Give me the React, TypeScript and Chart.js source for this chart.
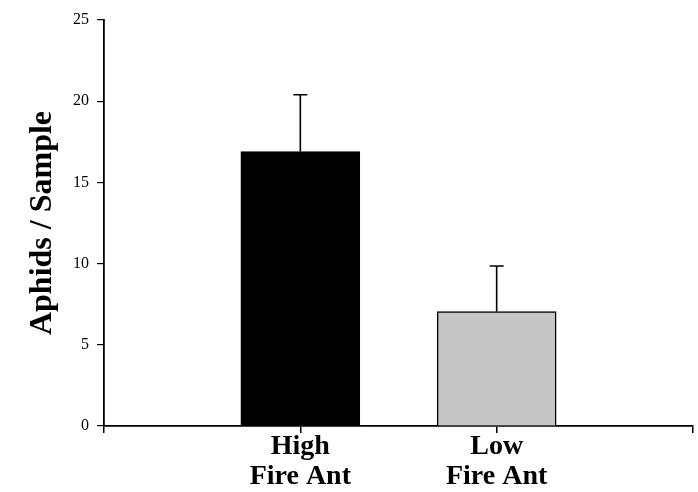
import React, { useEffect, useRef } from "react";
import { Chart, registerables } from "chart.js";

Chart.register(...registerables);

const categories: (string | string[])[] = ["", ["High", "Fire Ant"], ["Low", "Fire Ant"], ""];
const means: (number | null)[] = [null, 16.9, 7.05, null];
const errors: (number | null)[] = [null, 3.5, 2.8, null];
const barColors = ["#000000", "#000000", "#c6c6c6", "#000000"];
const yTicks = [0, 5, 10, 15, 20, 25];

const errorBarPlugin = {
  id: "errorBars",
  afterDatasetsDraw(chart: any) {
    const { ctx, scales } = chart;
    const x = scales.x;
    const y = scales.y;
    ctx.save();
    ctx.strokeStyle = "#000";
    ctx.lineWidth = 1.6;
    means.forEach((m, i) => {
      const e = errors[i];
      if (m == null || e == null) return;
      const px = x.getPixelForValue(i);
      const y0 = y.getPixelForValue(m);
      const y1 = y.getPixelForValue(m + e);
      ctx.beginPath();
      ctx.moveTo(px, y0);
      ctx.lineTo(px, y1);
      ctx.moveTo(px - 7, y1);
      ctx.lineTo(px + 7, y1);
      ctx.stroke();
    });
    ctx.restore();
  },
};

export default function App() {
  const ref = useRef<HTMLCanvasElement | null>(null);
  useEffect(() => {
    document.body.style.margin = "0";
    const chart = new Chart(ref.current as HTMLCanvasElement, {
      type: "bar",
      data: {
        labels: categories as any,
        datasets: [
          {
            data: means as any,
            backgroundColor: barColors,
            borderColor: "#000",
            borderWidth: 1.5,
            borderSkipped: "bottom",
            barThickness: 119,
          },
        ],
      },
      options: {
        animation: false,
        responsive: false,
        maintainAspectRatio: false,
        layout: { padding: { top: 20, right: 5, left: 0, bottom: 0 } },
        plugins: {
          legend: { display: false },
          tooltip: { enabled: false },
        },
        scales: {
          x: {
            type: "category",
            offset: false,
            afterFit: (s: any) => {
              s.height = 66;
            },
            grid: {
              display: true,
              offset: false,
              drawOnChartArea: false,
              drawTicks: true,
              tickLength: 7,
              color: "#000",
              lineWidth: 1.5,
            },
            border: { display: true, color: "#000", width: 1.8 },
            ticks: {
              color: "#000",
              padding: -2,
              autoSkip: false,
              maxRotation: 0,
              font: { family: "'Liberation Serif', 'Times New Roman', serif", size: 28, weight: "bold", lineHeight: 1.1 },
            },
          },
          y: {
            min: 0,
            max: 25,
            afterFit: (s: any) => {
              s.width = 104;
            },
            afterBuildTicks: (s: any) => {
              s.ticks = yTicks.map((v) => ({ value: v }));
            },
            grid: {
              display: true,
              drawOnChartArea: false,
              drawTicks: true,
              tickLength: 7,
              color: "#000",
              lineWidth: 1.2,
            },
            border: { display: true, color: "#000", width: 1.8 },
            ticks: {
              color: "#000",
              padding: 8,
              font: { family: "'Liberation Serif', 'Times New Roman', serif", size: 16 },
            },
            title: {
              display: true,
              text: "Aphids / Sample",
              color: "#000",
              padding: { top: 24, bottom: 0 },
              font: { family: "'Liberation Serif', 'Times New Roman', serif", size: 32, weight: "bold" },
            },
          },
        },
      },
      plugins: [errorBarPlugin],
    } as any);
    return () => chart.destroy();
  }, []);
  return (
    <div style={{ width: 698, height: 492, background: "#fff" }}>
      <canvas ref={ref} width={698} height={492} style={{ display: "block" }} />
    </div>
  );
}
